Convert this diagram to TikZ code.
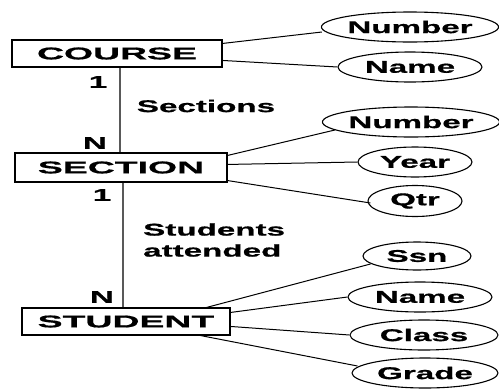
\documentclass[tikz,border=0pt]{standalone}
\usepackage{fontspec}
\setmainfont{Liberation Sans}[FakeStretch=1.95,FakeBold=0.8]
\newfontfamily\widefont{Liberation Sans}[FakeStretch=2.2,FakeBold=0.8]
\usetikzlibrary{shapes.geometric}
\begin{document}
\begin{tikzpicture}[x=1pt,y=-1pt,
  lab/.style={font=\fontsize{17}{20}\selectfont\bfseries, inner sep=0pt},
  entity/.style={draw, line width=1.1pt, rectangle, inner sep=0pt, font=\widefont\fontsize{17}{20}\selectfont\bfseries},
  attr/.style={draw, line width=1.1pt, ellipse, inner sep=0pt, font=\fontsize{17}{20}\selectfont\bfseries},
  conn/.style={line width=1pt},
  rel/.style={line width=1.2pt, black!65}]
\useasboundingbox (0,0) rectangle (499,389);
% entities
\node[entity, minimum width=210pt, minimum height=27pt] (course) at (117,53.5) {COURSE};
\node[entity, minimum width=212pt, minimum height=29pt] (section) at (121,167.5) {SECTION};
\node[entity, minimum width=208pt, minimum height=27pt] (student) at (126,321.5) {STUDENT};
% attributes
\node[attr, minimum width=176pt, minimum height=30pt] (n1) at (410,27) {Number};
\node[attr, minimum width=144pt, minimum height=30pt] (name1) at (410,67) {Name};
\node[attr, minimum width=172pt, minimum height=30pt] (n2) at (411,122) {Number};
\node[attr, minimum width=114pt, minimum height=30pt] (year) at (415,162) {Year};
\node[attr, minimum width=94pt, minimum height=31pt] (qtr) at (415,201) {Qtr};
\node[attr, minimum width=108pt, minimum height=28pt] (ssn) at (417,256) {Ssn};
\node[attr, minimum width=144pt, minimum height=30pt] (name2) at (420,297) {Name};
\node[attr, minimum width=148pt, minimum height=30pt] (class) at (424,335) {Class};
\node[attr, minimum width=146pt, minimum height=30pt] (grade) at (425,373) {Grade};
% labels
\node[lab] (one1) at (98,82) {1};
\node[lab] (en1) at (95,143) {N};
\node[lab] (secs) at (206,106) {Sections};
\node[lab] (one2) at (102,195) {1};
\node[lab] (en2) at (102,297) {N};
\node[lab, align=left, anchor=west] (stud) at (143,240) {Students\\[1pt]attended};
% relationships
\draw[rel] ([xshift=3pt]course.south) -- ([xshift=-1pt]section.north);
\draw[rel] ([xshift=2pt]section.south) -- ([xshift=-3pt]student.north);
% attribute connectors
\draw[conn] ([yshift=-4pt]course.north east) -- ([xshift=1pt,yshift=-5pt]n1.west);
\draw[conn] ([yshift=-21pt]course.north east) -- (name1.west);
\draw[conn] ([yshift=-3pt]section.north east) -- ([xshift=13pt,yshift=-8pt]n2.west);
\draw[conn] ([yshift=-12pt]section.north east) -- (year.west);
\draw[conn] ([yshift=2pt]section.south east) -- ([xshift=3pt,yshift=-2pt]qtr.west);
\draw[conn] ([xshift=-24pt]student.north east) -- ([xshift=8pt,yshift=-8pt]ssn.west);
\draw[conn] ([yshift=-5pt]student.north east) -- (name2.west);
\draw[conn] ([yshift=-19pt]student.north east) -- (class.west);
\draw[conn] ([xshift=-30pt]student.south east) -- ([xshift=6pt,yshift=7pt]grade.west);
\end{tikzpicture}
\end{document}
